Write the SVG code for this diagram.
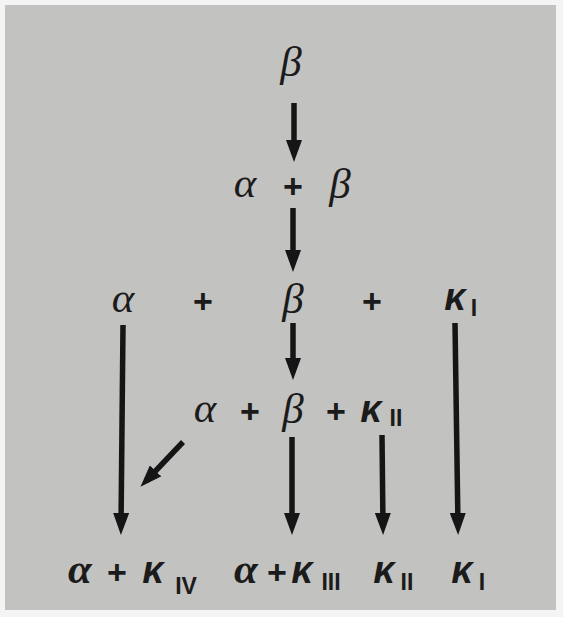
<svg xmlns="http://www.w3.org/2000/svg" width="563" height="617" viewBox="0 0 563 617">
<style>
.g{font-family:"Liberation Serif","DejaVu Serif",serif;font-style:italic;font-size:43px;fill:#1b1b1b;text-anchor:middle}
.gb{font-weight:bold}
.p{font-family:"Liberation Sans","DejaVu Sans",sans-serif;font-weight:bold;font-size:34px;fill:#1b1b1b;text-anchor:middle}
.k{font-family:"Liberation Sans","DejaVu Sans",sans-serif;font-weight:bold;font-style:italic;font-size:38px;fill:#1b1b1b;text-anchor:middle}
.s{font-family:"Liberation Sans","DejaVu Sans",sans-serif;font-weight:bold;font-size:23px;fill:#1b1b1b;text-anchor:middle}
.a{stroke:#151515;stroke-width:5.5;fill:none;marker-end:url(#h)}
</style>
<defs>
<marker id="h" markerUnits="userSpaceOnUse" viewBox="0 0 22 16" markerWidth="22" markerHeight="16" refX="14" refY="8" orient="auto">
<path d="M0,0 L22,8 L0,16 Z" fill="#151515"/>
</marker>
</defs>
<rect x="0" y="0" width="563" height="617" fill="#f4f4f4"/>
<rect x="5" y="5" width="551" height="605" fill="#c2c2c0"/>
<g id="connectors">
<path class="a" d="M294,103 L294,154"/>
<path class="a" d="M293,208 L293,264"/>
<path class="a" d="M293,323 L293,372"/>
<path class="a" d="M123,325 L121,527"/>
<path class="a" d="M455,323 L458,527"/>
<path class="a" d="M292,437 L292,527"/>
<path class="a" d="M382,435 L383,527"/>
<path class="a" d="M183,442 L146,481"/>
</g>
<g id="n_beta">
<text class="g" x="291" y="76">β</text>
</g>
<g id="n_alpha_beta">
<text class="g" x="245" y="197">α</text>
<text class="p" x="293" y="198">+</text>
<text class="g" x="340" y="198">β</text>
</g>
<g id="n_row3">
<text class="g" x="123" y="312">α</text>
<text class="p" x="203" y="313">+</text>
<text class="g" x="293" y="313">β</text>
<text class="p" x="372" y="313">+</text>
<text class="k" x="455" y="310">κ</text>
<text class="s" x="474" y="316">I</text>
</g>
<g id="n_row4">
<text class="g" x="205" y="422">α</text>
<text class="p" x="250" y="423">+</text>
<text class="g" x="293" y="423">β</text>
<text class="p" x="336" y="423">+</text>
<text class="k" x="371" y="422">κ</text>
<text class="s" x="396" y="426">II</text>
</g>
<g id="n_alpha_k4">
<text class="g gb" x="80" y="583">α</text>
<text class="p" x="117" y="584">+</text>
<text class="k" x="153" y="583">κ</text>
<text class="s" x="186" y="594">IV</text>
</g>
<g id="n_alpha_k3">
<text class="g gb" x="246" y="583">α</text>
<text class="p" x="277" y="584">+</text>
<text class="k" x="302" y="583">κ</text>
<text class="s" x="331" y="590">III</text>
</g>
<g id="n_k2">
<text class="k" x="384" y="583">κ</text>
<text class="s" x="407" y="590">II</text>
</g>
<g id="n_k1">
<text class="k" x="462" y="583">κ</text>
<text class="s" x="482" y="590">I</text>
</g>
</svg>
